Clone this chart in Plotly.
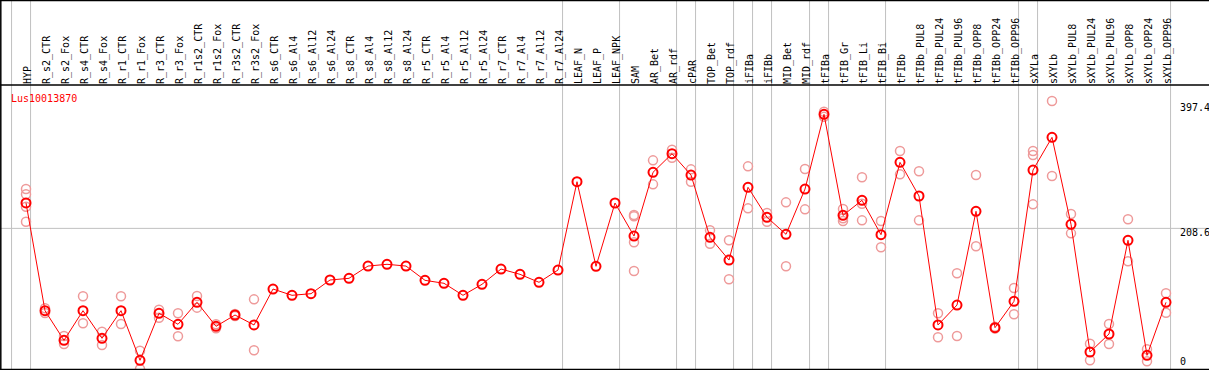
import plotly.graph_objects as go

categories = ["HYP", "R_s2_CTR", "R_s2_Fox", "R_s4_CTR", "R_s4_Fox", "R_r1_CTR", "R_r1_Fox",
              "R_r3_CTR", "R_r3_Fox", "R_r1s2_CTR", "R_r1s2_Fox", "R_r3s2_CTR", "R_r3s2_Fox",
              "R_s6_CTR", "R_s6_Al4", "R_s6_Al12", "R_s6_Al24", "R_s8_CTR", "R_s8_Al4", "R_s8_Al12",
              "R_s8_Al24", "R_r5_CTR", "R_r5_Al4", "R_r5_Al12", "R_r5_Al24", "R_r7_CTR", "R_r7_Al4",
              "R_r7_Al12", "R_r7_Al24", "LEAF_N", "LEAF_P", "LEAF_NPK", "SAM", "AR_Bet", "AR_rdf",
              "cPAR", "TOP_Bet", "TOP_rdf", "iFIBa", "iFIBb", "MID_Bet", "MID_rdf", "tFIBa",
              "tFIB_Gr", "tFIB_Li", "tFIB_Bi", "tFIBb", "tFIBb_PUL8", "tFIBb_PUL24", "tFIBb_PUL96",
              "tFIBb_OPP8", "tFIBb_OPP24", "tFIBb_OPP96", "sXYLa", "sXYLb", "sXYLb_PUL8",
              "sXYLb_PUL24", "sXYLb_PUL96", "sXYLb_OPP8", "sXYLb_OPP24", "sXYLb_OPP96"]

means = [246.3, 86.5, 42.5, 86.5, 45.5, 86.5, 12.9, 82.6, 66.3, 98.9, 63.3, 80.1, 65.3,
         118.6, 109.3, 111.7, 132.0, 134.5, 152.7, 155.3, 152.7, 131.5, 127.1, 109.3, 125.6,
         148.3, 140.4, 128.6, 146.8, 277.8, 152.3, 246.2, 197.2, 291.7, 319.3, 287.7, 195.3,
         161.6, 269.5, 225.0, 199.8, 266.9, 377.7, 227.9, 250.2, 199.2, 306.5, 256.6, 65.3,
         94.9, 233.9, 61.3, 100.4, 295.1, 343.6, 214.6, 25.2, 51.9, 190.9, 20.3, 98.9]

replicates = [
    [266.9, 259.1, 240.7, 218.4], [90.0, 83.0], [48.9, 37.1], [107.8, 67.8], [55.3, 35.6],
    [107.8, 66.7], [27.1, 0.0], [88.0, 76.0], [82.6, 48.5], [108.3, 91.0], [66.3, 60.4],
    [81.5, 78.5], [103.3, 27.7],
    [], [], [], [], [], [], [], [], [], [], [], [], [], [], [], [], [], [], [],
    [228.4, 226.4, 187.9, 145.3], [309.5, 273.9], [325.2, 313.4], [296.1, 277.8],
    [205.7, 185.8], [190.9, 133.0], [300.6, 238.3], [231.3, 218.4], [247.2, 152.3],
    [296.6, 236.8], [381.6, 374.0], [237.3, 223.5, 219.5], [284.3, 245.1, 220.5],
    [219.5, 180.5], [323.3, 288.7], [293.2, 220.5], [82.6, 47.0], [141.9, 48.9],
    [287.7, 182.0], [62.5, 60.0], [120.1, 81.1], [323.3, 317.4, 244.2], [397.4, 286.2],
    [229.9, 201.2], [37.5, 12.9], [66.7, 37.1], [222.0, 159.7], [29.2, 11.4], [112.3, 83.5],
]

separators_after = [0, 1, 29, 32, 35, 36, 38, 39, 40, 42, 43, 46, 53, 54, 61]
tick_values = [0, 208.6, 397.4]
gene_name = "Lus10013870"

W, H = 1209, 370
FONT = "DejaVu Sans Mono"
xs = list(range(1, len(categories) + 1))

rep_x, rep_y = [], []
for i, reps in zip(xs, replicates):
    for v in reps:
        rep_x.append(i)
        rep_y.append(v)

fig = go.Figure()
fig.add_trace(go.Scatter(
    x=rep_x, y=rep_y, mode="markers",
    marker=dict(symbol="circle-open", size=9, color="#ee9a9a", line=dict(width=1.5, color="#ee9a9a")),
    hoverinfo="skip", showlegend=False, cliponaxis=False))
fig.add_trace(go.Scatter(
    x=xs, y=means, mode="lines+markers",
    line=dict(color="#ff0000", width=1),
    marker=dict(symbol="circle-open", size=9, color="#ff0000", line=dict(width=2, color="#ff0000")),
    showlegend=False))

r0 = 1 - 26 / 19
r1 = r0 + W / 19
ymax = 397.4 * 1.06

shapes = []
for s in separators_after:
    shapes.append(dict(type="line", xref="x", yref="paper", x0=s + 0.24, x1=s + 0.24,
                       y0=0, y1=1, line=dict(color="#c0c0c0", width=1), layer="below"))
shapes.append(dict(type="line", xref="paper", yref="y", x0=0, x1=1, y0=208.6, y1=208.6,
                   line=dict(color="#c0c0c0", width=1), layer="below"))
for yp in [369.5, 85, 0.5]:
    shapes.append(dict(type="line", xref="paper", yref="paper", x0=0, x1=1,
                       y0=(H - yp) / H, y1=(H - yp) / H, line=dict(color="black", width=1.5)))
shapes.append(dict(type="line", xref="paper", yref="paper", x0=0.8 / W, x1=0.8 / W,
                   y0=0, y1=1, line=dict(color="black", width=1.5)))

annotations = [dict(text=gene_name, xref="paper", yref="paper", x=9 / W, y=(H - 91) / H,
                    xanchor="left", yanchor="top", showarrow=False,
                    font=dict(family=FONT, size=10, color="#ff0000"))]
shifts = {0: 8, 208.6: -4, 397.4: -6}
for tv in tick_values:
    annotations.append(dict(text=("%g" % tv), xref="paper", yref="y", x=1178 / W, y=tv,
                            xanchor="left", yanchor="middle", yshift=shifts[tv], showarrow=False,
                            font=dict(family=FONT, size=10, color="black")))

fig.update_layout(
    width=W, height=H, margin=dict(l=0, r=0, t=0, b=0),
    paper_bgcolor="white", plot_bgcolor="white",
    xaxis=dict(range=[r0, r1], side="top", tickmode="array", tickvals=xs, ticktext=categories,
               tickangle=-90, ticks="", showgrid=False, zeroline=False, showline=False,
               tickfont=dict(family=FONT, size=10, color="black"), ticklabelstandoff=0,
               ticklabelshift=2),
    yaxis=dict(range=[0, ymax], domain=[1 / H, 285 / H], showgrid=False, zeroline=False,
               showticklabels=False, ticks=""),
    shapes=shapes, annotations=annotations,
)

fig.write_html("out.html", config={"displayModeBar": False},
               post_script="document.body.style.margin='0';document.body.style.overflow='hidden';")
